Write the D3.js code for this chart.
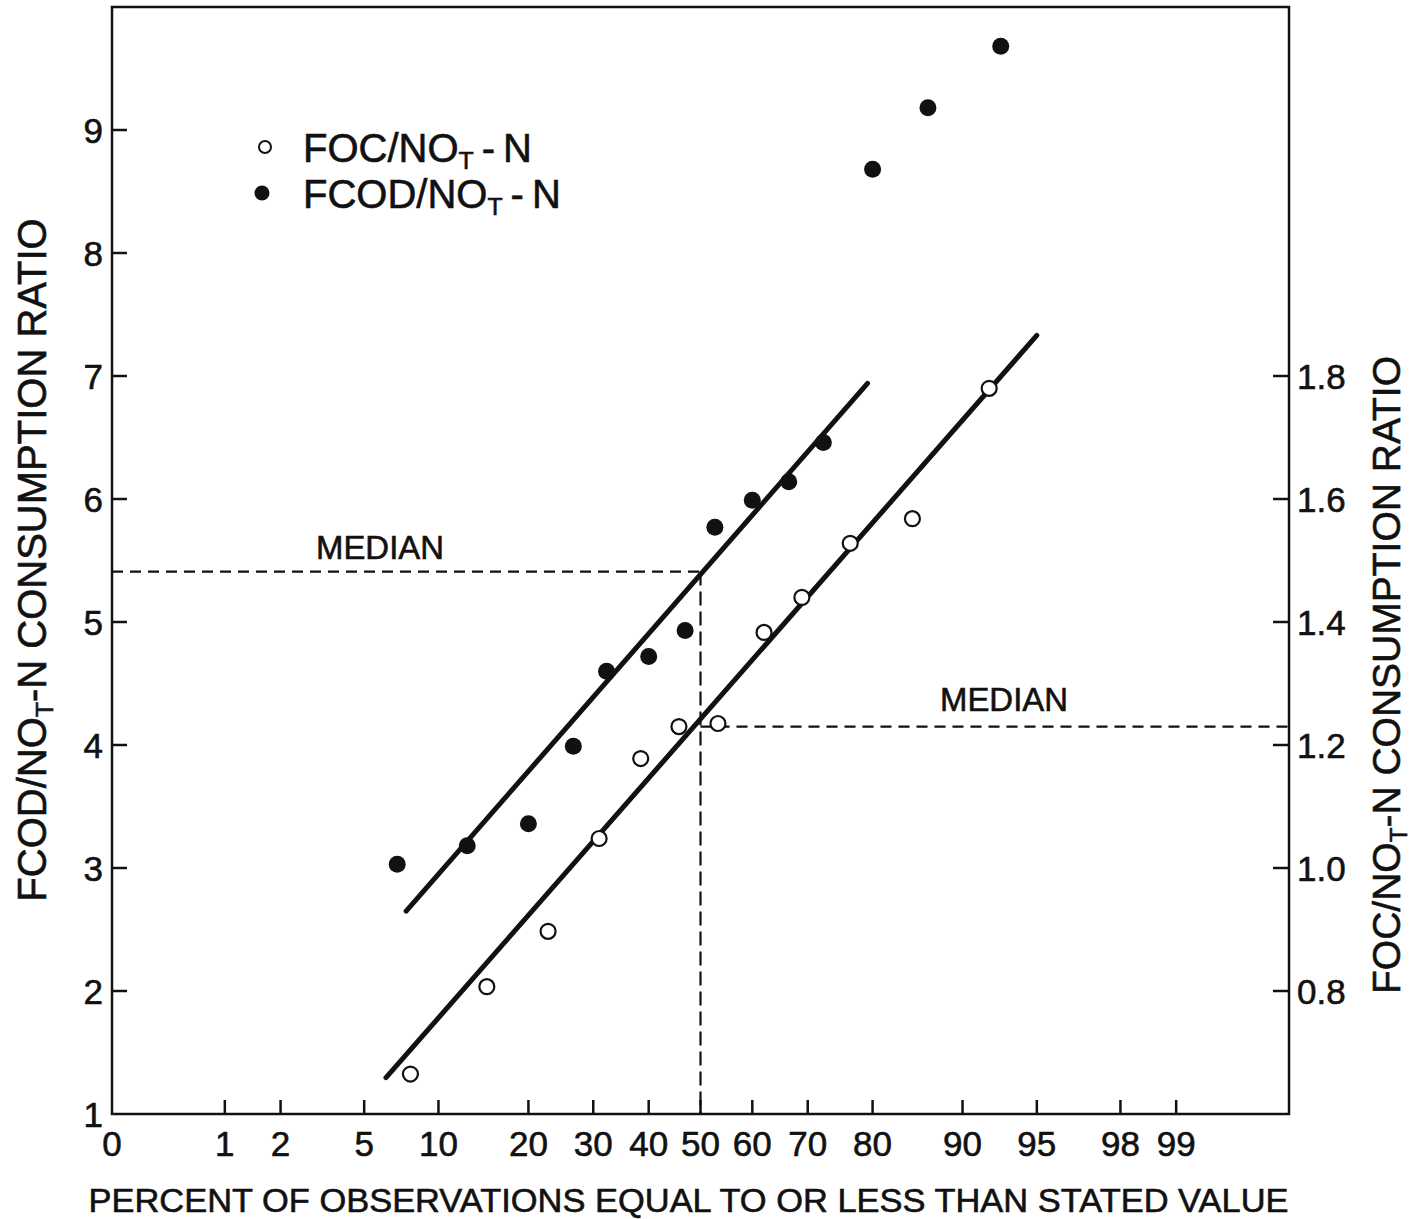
<!DOCTYPE html>
<html>
<head>
<meta charset="utf-8">
<script src="https://cdn.jsdelivr.net/npm/d3@7"></script>
<style>
  body { margin: 0; background: #fff; }
  text { font-family: "Liberation Sans", Arial, sans-serif; fill: #111; stroke: #111; stroke-width: 0.6px; }
</style>
</head>
<body>
<svg width="1418" height="1219"></svg>
<script>
// percent of observations (plotting position) and ratios
const fcodPct   = [6.9, 12.7, 20, 26.7, 32.3, 40, 47.0, 52.8, 60, 66.7, 72.6, 80, 86.7, 92.9];
const fcodRatio = [3.03, 3.18, 3.36, 3.99, 4.60, 4.72, 4.93, 5.77, 5.99, 6.14, 6.46, 8.68, 9.18, 9.68];
const focPct    = [7.8, 14.8, 22.8, 31.0, 38.5, 45.8, 53.4, 62.2, 69.0, 76.8, 85.0, 92.1];
const focRatio  = [0.665, 0.807, 0.897, 1.048, 1.178, 1.230, 1.235, 1.383, 1.440, 1.528, 1.568, 1.780];

// fitted lines (end points)
const fcodFitPct = [7.5, 79.3], fcodFitRatio = [2.65, 6.94];
const focFitPct  = [6.2, 95.0], focFitRatio  = [0.659, 1.866];

// medians
const medianPct = 50, fcodMedian = 5.41, focMedian = 1.23;

const xTicks = [1, 2, 5, 10, 20, 30, 40, 50, 60, 70, 80, 90, 95, 98, 99];
const leftTicks = [1, 2, 3, 4, 5, 6, 7, 8, 9];
const rightTicks = [0.8, 1.0, 1.2, 1.4, 1.6, 1.8];

const svg = d3.select("svg"),
    margin = {top: 7, right: 129, bottom: 105, left: 112},
    width = +svg.attr("width") - margin.left - margin.right,
    height = +svg.attr("height") - margin.top - margin.bottom;

const g = svg.append("g").attr("transform", "translate(" + margin.left + "," + margin.top + ")");

// inverse normal cdf (Acklam) for probability paper
function probit(p) {
    const a = [-3.969683028665376e+01, 2.209460984245205e+02, -2.759285104469687e+02, 1.383577518672690e+02, -3.066479806614716e+01, 2.506628277459239e+00],
        b = [-5.447609879822406e+01, 1.615858368580409e+02, -1.556989798598866e+02, 6.680131188771972e+01, -1.328068155288572e+01],
        c = [-7.784894002430293e-03, -3.223964580411365e-01, -2.400758277161838e+00, -2.549732539343734e+00, 4.374664141464968e+00, 2.938163982698783e+00],
        d = [7.784695709041462e-03, 3.224671290700398e-01, 2.445134137142996e+00, 3.754408661907416e+00];
    const plow = 0.02425;
    let q, r;
    if (p < plow) {
        q = Math.sqrt(-2 * Math.log(p));
        return (((((c[0]*q+c[1])*q+c[2])*q+c[3])*q+c[4])*q+c[5]) / ((((d[0]*q+d[1])*q+d[2])*q+d[3])*q+1);
    } else if (p <= 1 - plow) {
        q = p - 0.5; r = q * q;
        return (((((a[0]*r+a[1])*r+a[2])*r+a[3])*r+a[4])*r+a[5])*q / (((((b[0]*r+b[1])*r+b[2])*r+b[3])*r+b[4])*r+1);
    }
    q = Math.sqrt(-2 * Math.log(1 - p));
    return -(((((c[0]*q+c[1])*q+c[2])*q+c[3])*q+c[4])*q+c[5]) / ((((d[0]*q+d[1])*q+d[2])*q+d[3])*q+1);
}

const pMin = 0.2, pMax = 99.8;
const zScale = d3.scaleLinear().domain([probit(pMin / 100), probit(pMax / 100)]).range([0, width]);
const x = p => zScale(probit(Math.max(pMin, Math.min(pMax, p)) / 100));
const yL = d3.scaleLinear().domain([1, 10]).range([height, 0]);
const yR = d3.scaleLinear().domain([0.6, 2.4]).range([height, 0]);

const fontSize = 35;

// frame
g.append("rect")
    .attr("width", width).attr("height", height)
    .attr("fill", "none").attr("stroke", "#111").attr("stroke-width", 2.5);

// x ticks (inward) and labels
g.selectAll(".xtick").data(xTicks).enter().append("line")
    .attr("x1", d => x(d)).attr("x2", d => x(d))
    .attr("y1", height).attr("y2", height - 14)
    .attr("stroke", "#111").attr("stroke-width", 2.5);

g.selectAll(".xlab").data([0].concat(xTicks)).enter().append("text")
    .attr("x", d => d === 0 ? 0 : x(d))
    .attr("y", height + 42)
    .attr("text-anchor", "middle")
    .attr("font-size", fontSize)
    .text(d => d);

// left ticks
g.selectAll(".ltick").data(leftTicks.slice(1)).enter().append("line")
    .attr("x1", 0).attr("x2", 15)
    .attr("y1", d => yL(d)).attr("y2", d => yL(d))
    .attr("stroke", "#111").attr("stroke-width", 2.5);

g.selectAll(".llab").data(leftTicks).enter().append("text")
    .attr("x", -9)
    .attr("y", d => yL(d))
    .attr("dy", "0.36em")
    .attr("text-anchor", "end")
    .attr("font-size", fontSize)
    .text(d => d);

// right ticks
g.selectAll(".rtick").data(rightTicks).enter().append("line")
    .attr("x1", width).attr("x2", width - 16)
    .attr("y1", d => yR(d)).attr("y2", d => yR(d))
    .attr("stroke", "#111").attr("stroke-width", 2.5);

g.selectAll(".rlab").data(rightTicks).enter().append("text")
    .attr("x", width + 8)
    .attr("y", d => yR(d))
    .attr("dy", "0.36em")
    .attr("text-anchor", "start")
    .attr("font-size", fontSize)
    .text(d => d3.format(".1f")(d));

// median dashed lines
const dash = "11,7";
g.append("line")
    .attr("x1", 0).attr("x2", x(medianPct))
    .attr("y1", yL(fcodMedian)).attr("y2", yL(fcodMedian))
    .attr("stroke", "#111").attr("stroke-width", 2.2).attr("stroke-dasharray", dash);
g.append("line")
    .attr("x1", x(medianPct)).attr("x2", x(medianPct))
    .attr("y1", yL(fcodMedian)).attr("y2", height)
    .attr("stroke", "#111").attr("stroke-width", 2.2).attr("stroke-dasharray", "14,6");
g.append("line")
    .attr("x1", x(medianPct)).attr("x2", width)
    .attr("y1", yR(focMedian)).attr("y2", yR(focMedian))
    .attr("stroke", "#111").attr("stroke-width", 2.2).attr("stroke-dasharray", dash);

g.append("text")
    .attr("x", 204).attr("y", yL(fcodMedian) - 13)
    .attr("font-size", 33).attr("textLength", 128).attr("lengthAdjust", "spacingAndGlyphs")
    .text("MEDIAN");
g.append("text")
    .attr("x", 828).attr("y", yR(focMedian) - 16)
    .attr("font-size", 33).attr("textLength", 128).attr("lengthAdjust", "spacingAndGlyphs")
    .text("MEDIAN");

// fitted lines
const fitLine = d3.line();
g.append("path")
    .attr("d", fitLine(fcodFitPct.map((p, i) => [x(p), yL(fcodFitRatio[i])])))
    .attr("stroke", "#111").attr("stroke-width", 5).attr("stroke-linecap", "round").attr("fill", "none");
g.append("path")
    .attr("d", fitLine(focFitPct.map((p, i) => [x(p), yR(focFitRatio[i])])))
    .attr("stroke", "#111").attr("stroke-width", 5).attr("stroke-linecap", "round").attr("fill", "none");

// points
g.selectAll(".fcod").data(fcodPct).enter().append("circle")
    .attr("cx", d => x(d))
    .attr("cy", (d, i) => yL(fcodRatio[i]))
    .attr("r", 8.5)
    .attr("fill", "#111");

g.selectAll(".foc").data(focPct).enter().append("circle")
    .attr("cx", d => x(d))
    .attr("cy", (d, i) => yR(focRatio[i]))
    .attr("r", 7.5)
    .attr("fill", "#fff").attr("stroke", "#111").attr("stroke-width", 2.2);

// text with subscript T
function subLabel(sel, pre, post, size) {
    sel.append("tspan").text(pre);
    sel.append("tspan").attr("font-size", size * 0.62).attr("dy", size * 0.18).text("T");
    sel.append("tspan").attr("dy", -size * 0.18).text(post);
}

// legend
const legend = g.append("g").attr("transform", "translate(153,140)");
legend.append("circle").attr("cx", 0).attr("cy", 0).attr("r", 6)
    .attr("fill", "#fff").attr("stroke", "#111").attr("stroke-width", 2);
legend.append("circle").attr("cx", -3).attr("cy", 46).attr("r", 7.5).attr("fill", "#111");
subLabel(legend.append("text").attr("x", 38).attr("y", 15).attr("font-size", 40),
    "FOC/NO", "\u2009-\u2009N", 40);
subLabel(legend.append("text").attr("x", 38).attr("y", 61).attr("font-size", 40),
    "FCOD/NO", "\u2009-\u2009N", 40);

// axis titles
g.append("text")
    .attr("x", width / 2 - 12).attr("y", height + 98)
    .attr("text-anchor", "middle")
    .attr("font-size", 34).attr("textLength", 1200).attr("lengthAdjust", "spacingAndGlyphs")
    .text("PERCENT OF OBSERVATIONS  EQUAL TO OR LESS THAN STATED VALUE");

subLabel(g.append("text")
    .attr("transform", "translate(" + (-66) + "," + (553) + ") rotate(-90)")
    .attr("text-anchor", "middle")
    .attr("font-size", 40),
    "FCOD/NO", "-N CONSUMPTION RATIO", 40);

subLabel(g.append("text")
    .attr("transform", "translate(" + (width + 111) + "," + (668) + ") rotate(-90)")
    .attr("text-anchor", "middle")
    .attr("font-size", 39),
    "FOC/NO", "-N CONSUMPTION RATIO", 39);
</script>
</body>
</html>
